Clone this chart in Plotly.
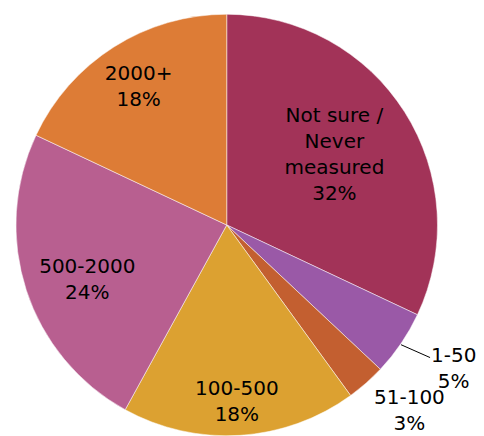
import math
import plotly.graph_objects as go

categories = ["Not sure /<br>Never<br>measured", "1-50", "51-100", "100-500", "500-2000", "2000+"]
values = [32, 5, 3, 18, 24, 18]
colors = ["#A23358", "#9A59A7", "#C35F30", "#DCA131", "#B85F90", "#DD7C36"]
leader_labels = ["1-50"]

W, H = 476, 500
cx, cy, R = 216, 217, 213  # pie centre / radius in figure pixels
font = dict(family="DejaVu Sans", size=20, color="black")

# label placement styling: invisible ring (hole), centre shift (px) and radius of the label pie
label_specs = {
    "Not sure /<br>Never<br>measured": dict(hole=0.21, shift=(0, -3), r=213, pos="inside"),
    "2000+": dict(hole=0.56, shift=(0, 0), r=213, pos="inside"),
    "500-2000": dict(hole=0.48, shift=(9, 6), r=213, pos="inside"),
    "100-500": dict(hole=0.53, shift=(0, 15), r=213, pos="inside"),
    "51-100": dict(hole=0.0, shift=(-4, 14), r=212, pos="outside"),
}


def domain(x0, y0, r):
    x_lo, x_hi = max(0.0, (x0 - r) / W), min(1.0, (x0 + r) / W)
    y_lo, y_hi = max(0.0, (H - y0 - r) / H), min(1.0, (H - y0 + r) / H)
    return dict(x=[x_lo, x_hi], y=[y_lo, y_hi])


fig = go.Figure()
fig.add_trace(go.Pie(
    labels=categories, values=values, sort=False, direction="clockwise", rotation=0,
    marker=dict(colors=colors, line=dict(color="white", width=0.5)),
    textinfo="none", showlegend=False, hoverinfo="label+percent",
    domain=domain(cx, cy, R),
))
for name, s in label_specs.items():
    fig.add_trace(go.Pie(
        labels=categories, values=values, sort=False, direction="clockwise", rotation=0,
        hole=s["hole"],
        marker=dict(colors=["rgba(0,0,0,0)"] * len(categories), line=dict(width=0)),
        texttemplate=["%{label}<br>%{percent:.0%}" if c == name else "" for c in categories],
        textposition=[s["pos"] if c == name else "none" for c in categories],
        insidetextorientation="horizontal",
        textfont=font, insidetextfont=font, outsidetextfont=font,
        showlegend=False, hoverinfo="skip",
        domain=domain(cx + s["shift"][0], cy + s["shift"][1], s["r"]),
    ))

# leader-line label for the thin slice, anchored at the slice's mid-angle on the rim
total = sum(values)
cum = 0
for c, v in zip(categories, values):
    if c in leader_labels:
        theta = 2 * math.pi * (cum + v / 2) / total
        px = cx + R * math.sin(theta)
        py = cy - R * math.cos(theta)
        fig.add_annotation(
            x=px / W, y=(H - py) / H, xref="paper", yref="paper",
            text=f"{c}<br>{v / total:.0%}", font=font, align="center",
            showarrow=True, arrowhead=0, arrowwidth=1, arrowcolor="black",
            ax=52, ay=23, standoff=0, borderpad=0,
        )
    cum += v

fig.update_layout(
    width=W, height=H,
    margin=dict(l=0, r=0, t=0, b=0),
    paper_bgcolor="white", plot_bgcolor="white",
    uniformtext=dict(minsize=20, mode="show"),
)

fig.write_html("out.html")
